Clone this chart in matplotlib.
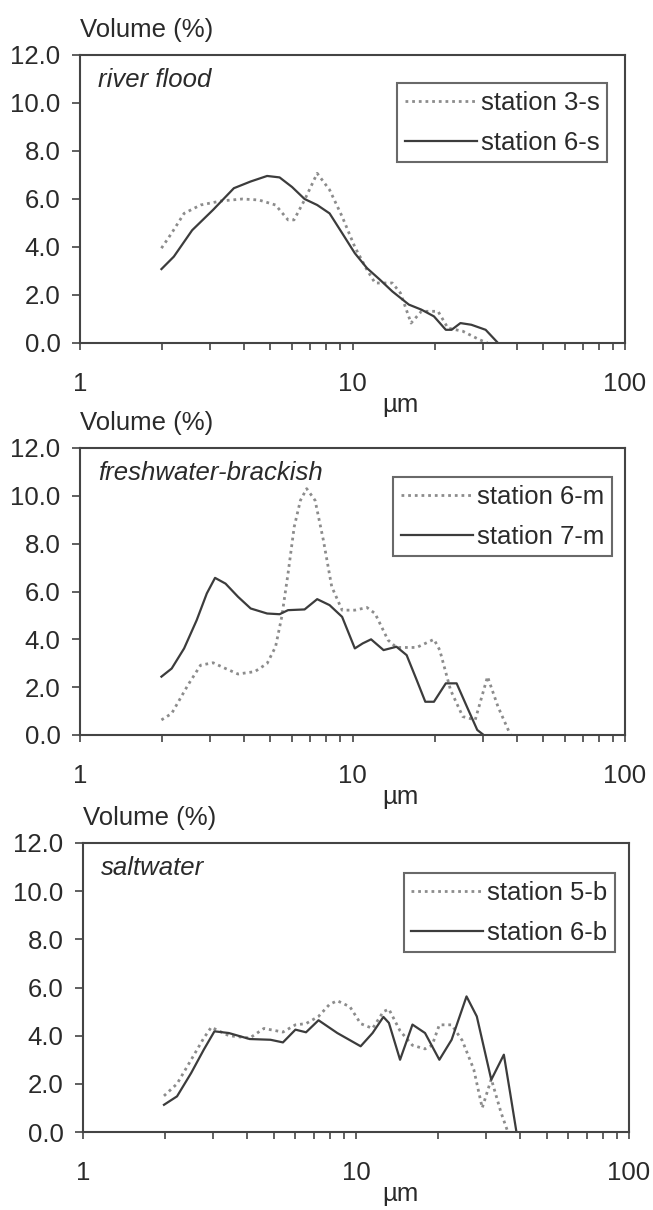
import matplotlib
matplotlib.use('Agg')
import matplotlib.pyplot as plt
import matplotlib.ticker as ticker

plt.rcParams['font.family'] = ['Liberation Sans', 'DejaVu Sans']

# panel 1 - river flood
x_3s = [1.99, 2.17, 2.41, 2.77, 3.30, 3.94, 4.53, 5.22, 5.8, 6.1, 6.67, 7.42, 8.24, 9.16,
        10.2, 11.3, 12.1, 14.0, 15.0, 16.4, 17.9, 20.6, 22.4, 25.4, 29.2, 31.3]
y_3s = [3.95, 4.58, 5.4, 5.75, 5.92, 6.0, 5.96, 5.75, 5.13, 5.13, 5.96, 7.07, 6.38, 5.27,
        4.0, 3.05, 2.5, 2.5, 2.08, 0.83, 1.32, 1.32, 0.62, 0.49, 0.14, 0.0]
x_6s = [1.99, 2.21, 2.58, 3.08, 3.67, 4.23, 4.86, 5.4, 6.0, 6.67, 7.42, 8.24, 9.16, 10.2,
        11.3, 12.6, 14.0, 16.1, 17.9, 19.9, 22.0, 23.1, 24.9, 27.3, 30.8, 34.2]
y_6s = [3.08, 3.6, 4.7, 5.55, 6.45, 6.73, 6.96, 6.9, 6.5, 6.0, 5.75, 5.4, 4.58, 3.74,
        3.12, 2.64, 2.15, 1.6, 1.39, 1.11, 0.55, 0.55, 0.83, 0.76, 0.55, 0.0]

# panel 2 - freshwater-brackish
x_6m = [1.99, 2.17, 2.49, 2.77, 3.08, 3.42, 3.80, 4.38, 4.86, 5.22, 5.5, 5.8, 6.11, 6.44,
        6.79, 7.29, 7.82, 8.39, 9.16, 10.2, 11.3, 12.1, 13.5, 14.5, 17.2, 19.9, 20.9,
        22.9, 25.4, 28.2, 31.3, 34.2, 38.0]
y_6m = [0.63, 0.9, 2.09, 2.92, 3.02, 2.78, 2.55, 2.65, 2.99, 3.69, 4.94, 6.75, 8.7, 9.81,
        10.3, 9.81, 8.14, 6.2, 5.22, 5.22, 5.33, 5.08, 3.97, 3.66, 3.66, 4.0, 3.55,
        1.88, 0.77, 0.63, 2.44, 1.18, 0.0]
x_7m = [1.99, 2.17, 2.41, 2.68, 2.92, 3.13, 3.42, 3.80, 4.23, 4.86, 5.4, 5.8, 6.67, 7.42,
        8.24, 9.16, 10.2, 10.9, 11.7, 13.0, 14.5, 15.8, 17.2, 18.5, 19.9, 22.0, 24.1,
        26.3, 28.7, 30.3]
y_7m = [2.44, 2.78, 3.62, 4.8, 5.92, 6.57, 6.33, 5.78, 5.29, 5.08, 5.05, 5.22, 5.25, 5.68,
        5.43, 4.94, 3.62, 3.83, 4.0, 3.55, 3.69, 3.34, 2.30, 1.39, 1.39, 2.16, 2.16,
        1.18, 0.21, 0.0]

# panel 3 - saltwater
x_5b = [1.98, 2.21, 2.49, 2.77, 2.95, 3.42, 4.08, 4.6, 5.4, 6.0, 6.56, 7.29, 8.0, 8.54,
        9.5, 10.4, 11.5, 12.6, 13.2, 14.5, 16.1, 17.9, 19.0, 20.2, 22.4, 24.5, 27.0,
        29.0, 31.3, 34.0, 36.0]
y_5b = [1.5, 2.0, 3.0, 3.9, 4.35, 4.0, 3.9, 4.3, 4.15, 4.45, 4.5, 4.8, 5.3, 5.45,
        5.2, 4.5, 4.3, 5.0, 5.1, 4.2, 3.6, 3.45, 3.6, 4.45, 4.45, 3.8, 2.6,
        1.0, 2.2, 0.8, 0.0]
x_6b = [1.98, 2.21, 2.49, 2.77, 3.03, 3.42, 4.08, 4.86, 5.4, 6.0, 6.56, 7.29, 8.54, 10.4,
        11.5, 12.6, 13.2, 14.5, 16.1, 17.9, 20.2, 22.4, 25.4, 27.7, 31.3, 34.8, 36.7, 38.7]
y_6b = [1.13, 1.48, 2.45, 3.42, 4.18, 4.11, 3.86, 3.83, 3.72, 4.25, 4.14, 4.64, 4.11, 3.56,
        4.11, 4.78, 4.53, 3.0, 4.46, 4.11, 3.0, 3.83, 5.63, 4.8, 2.17, 3.21, 1.62, 0.0]

titles = ['river flood', 'freshwater-brackish', 'saltwater']
dotted_labels = ['station 3-s', 'station 6-m', 'station 5-b']
solid_labels = ['station 6-s', 'station 7-m', 'station 6-b']
dotted_x = [x_3s, x_6m, x_5b]
dotted_y = [y_3s, y_6m, y_5b]
solid_x = [x_6s, x_7m, x_6b]
solid_y = [y_6s, y_7m, y_6b]

W, H = 653.0, 1210.0
# axes boxes in pixels: left, right, top, bottom
boxes = [(80, 625, 55, 343), (80, 625, 448, 735), (83, 629, 843, 1132)]
# legend upper right corner in pixels
leg_corner = [(607, 83), (612, 477), (615, 873)]

FS = 18.5
AXCOL = '#444444'
TXTCOL = '#2a2a2a'

fig = plt.figure(figsize=(W / 100, H / 100), dpi=100)

for n in range(3):
    l, r, t, b = boxes[n]
    ax = fig.add_axes([l / W, 1 - b / H, (r - l) / W, (b - t) / H])

    ax.plot(dotted_x[n], dotted_y[n], color='#8c8c8c', linestyle=(0, (1, 1.4)),
            linewidth=2.0, label=dotted_labels[n])
    ax.plot(solid_x[n], solid_y[n], color='#3c3c3c', linestyle='-',
            linewidth=1.6, label=solid_labels[n])

    ax.set_xscale('log')
    ax.set_xlim(1, 100)
    ax.set_ylim(0, 12)
    ax.set_yticks([0, 2, 4, 6, 8, 10, 12])
    ax.yaxis.set_major_formatter(ticker.FormatStrFormatter('%.1f'))
    ax.xaxis.set_major_locator(ticker.FixedLocator([1, 10, 100]))
    ax.xaxis.set_major_formatter(ticker.FixedFormatter(['1', '10', '100']))
    ax.xaxis.set_minor_locator(ticker.LogLocator(base=10, subs=range(2, 10)))
    ax.xaxis.set_minor_formatter(ticker.NullFormatter())

    ax.tick_params(axis='x', which='both', direction='out', length=5, width=1.2,
                   color=AXCOL, labelsize=FS, labelcolor=TXTCOL, pad=16)
    ax.tick_params(axis='y', which='both', direction='out', length=6, width=1.2,
                   color=AXCOL, labelsize=FS, labelcolor=TXTCOL, pad=8)
    for sp in ax.spines.values():
        sp.set_color(AXCOL)
        sp.set_linewidth(1.5)

    ax.text(0.0, 1 + 25.0 / (b - t), 'Volume (%)', transform=ax.transAxes,
            ha='left', va='center', fontsize=FS, color=TXTCOL)
    ax.text(18.0 / (r - l), 1 - 25.0 / (b - t), titles[n], transform=ax.transAxes,
            ha='left', va='center', fontsize=FS, style='italic', color=TXTCOL)
    ax.text((400.0 - l) / (r - l), -62.0 / (b - t), 'µm', transform=ax.transAxes,
            ha='center', va='center', fontsize=FS, color=TXTCOL)

    cx, cy = leg_corner[n]
    leg = ax.legend(loc='upper right',
                    bbox_to_anchor=((cx - l) / (r - l), 1 - (cy - t) / (b - t)),
                    borderaxespad=0, fontsize=FS, frameon=True, fancybox=False,
                    handlelength=2.8, handletextpad=0.15, borderpad=0.3,
                    labelspacing=0.62)
    leg.get_frame().set_edgecolor(AXCOL)
    leg.get_frame().set_linewidth(1.5)
    for txt in leg.get_texts():
        txt.set_color(TXTCOL)

fig.savefig('out.png', dpi=100)
